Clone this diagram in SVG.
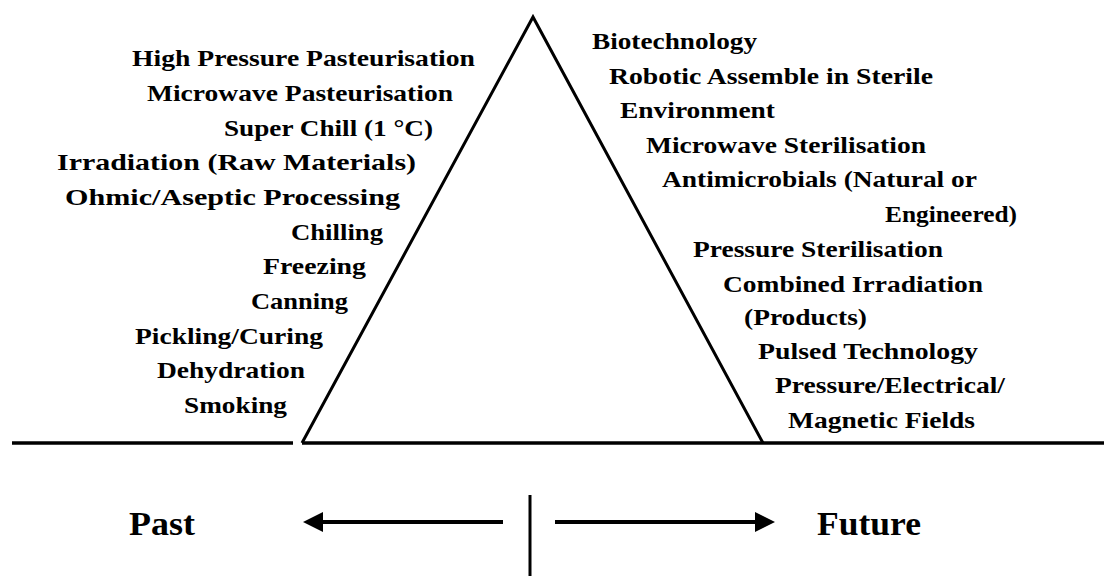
<svg xmlns="http://www.w3.org/2000/svg" width="1104" height="576" viewBox="0 0 1104 576">
<style>
  .t { font-family: "Liberation Serif", "Times New Roman", serif; font-weight: bold; font-size: 23px; fill: #000; }
  .big { font-family: "Liberation Serif", "Times New Roman", serif; font-weight: bold; font-size: 33px; fill: #000; }
  .ln { stroke: #000; fill: none; }
</style>
<defs>
  <marker id="ah" markerUnits="userSpaceOnUse" markerWidth="20" markerHeight="20" refX="0" refY="10" orient="auto" viewBox="0 0 20 20">
    <path d="M0,0 L20,10 L0,20 z" fill="#000"/>
  </marker>
</defs>
<rect width="1104" height="576" fill="#fff"/>
<g id="ground">
  <line class="ln" x1="12" y1="443" x2="293" y2="443" stroke-width="3.5"/>
  <line class="ln" x1="302" y1="443" x2="1104" y2="443" stroke-width="3.5"/>
</g>
<g id="triangle">
  <polyline class="ln" points="302,443 533,17 763,443" stroke-width="3" stroke-linejoin="miter"/>
</g>
<g id="past-methods">
  <text class="t" x="132" y="66" textLength="343" lengthAdjust="spacingAndGlyphs">High Pressure Pasteurisation</text>
  <text class="t" x="147" y="101" textLength="306" lengthAdjust="spacingAndGlyphs">Microwave Pasteurisation</text>
  <text class="t" x="224" y="136" textLength="209" lengthAdjust="spacingAndGlyphs">Super Chill (1 °C)</text>
  <text class="t" x="57" y="170" textLength="359" lengthAdjust="spacingAndGlyphs">Irradiation (Raw Materials)</text>
  <text class="t" x="65" y="205" textLength="335" lengthAdjust="spacingAndGlyphs">Ohmic/Aseptic Processing</text>
  <text class="t" x="291" y="240" textLength="92" lengthAdjust="spacingAndGlyphs">Chilling</text>
  <text class="t" x="263" y="274" textLength="103" lengthAdjust="spacingAndGlyphs">Freezing</text>
  <text class="t" x="251" y="309" textLength="97" lengthAdjust="spacingAndGlyphs">Canning</text>
  <text class="t" x="135" y="344" textLength="188" lengthAdjust="spacingAndGlyphs">Pickling/Curing</text>
  <text class="t" x="157" y="378" textLength="148" lengthAdjust="spacingAndGlyphs">Dehydration</text>
  <text class="t" x="184" y="413" textLength="103" lengthAdjust="spacingAndGlyphs">Smoking</text>
</g>
<g id="future-methods">
  <text class="t" x="592" y="49" textLength="165" lengthAdjust="spacingAndGlyphs">Biotechnology</text>
  <text class="t" x="609" y="84" textLength="324" lengthAdjust="spacingAndGlyphs">Robotic Assemble in Sterile</text>
  <text class="t" x="620" y="118" textLength="155" lengthAdjust="spacingAndGlyphs">Environment</text>
  <text class="t" x="646" y="153" textLength="280" lengthAdjust="spacingAndGlyphs">Microwave Sterilisation</text>
  <text class="t" x="662" y="187" textLength="315" lengthAdjust="spacingAndGlyphs">Antimicrobials (Natural or</text>
  <text class="t" x="885" y="222" textLength="132" lengthAdjust="spacingAndGlyphs">Engineered)</text>
  <text class="t" x="693" y="257" textLength="250" lengthAdjust="spacingAndGlyphs">Pressure Sterilisation</text>
  <text class="t" x="723" y="292" textLength="260" lengthAdjust="spacingAndGlyphs">Combined Irradiation</text>
  <text class="t" x="744" y="325" textLength="123" lengthAdjust="spacingAndGlyphs">(Products)</text>
  <text class="t" x="758" y="359" textLength="220" lengthAdjust="spacingAndGlyphs">Pulsed Technology</text>
  <text class="t" x="775" y="393" textLength="230" lengthAdjust="spacingAndGlyphs">Pressure/Electrical/</text>
  <text class="t" x="788" y="428" textLength="187" lengthAdjust="spacingAndGlyphs">Magnetic Fields</text>
</g>
<g id="past">
  <text class="big" x="129" y="535" textLength="66" lengthAdjust="spacingAndGlyphs">Past</text>
</g>
<g id="future">
  <text class="big" x="817" y="535" textLength="104" lengthAdjust="spacingAndGlyphs">Future</text>
</g>
<g id="divider">
  <line class="ln" x1="530" y1="495" x2="530" y2="576" stroke-width="3"/>
</g>
<g id="connectors">
  <line class="ln" x1="503" y1="522" x2="323" y2="522" stroke-width="4" marker-end="url(#ah)"/>
  <line class="ln" x1="555" y1="522" x2="755" y2="522" stroke-width="4" marker-end="url(#ah)"/>
</g>
</svg>
